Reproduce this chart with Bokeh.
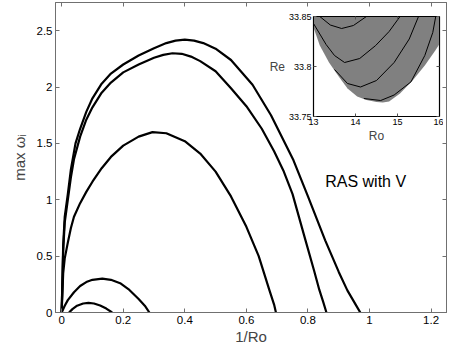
from bokeh.plotting import figure
from bokeh.models import LinearAxis, FixedTicker, Range1d
from bokeh.layouts import column
from bokeh.embed import file_html
from bokeh.resources import INLINE
from bokeh.core.properties import value

# ---------------- main chart data ----------------
c1_x = [0, 0.005, 0.01, 0.02, 0.03, 0.045, 0.06, 0.08, 0.1, 0.13, 0.16, 0.2, 0.25, 0.3, 0.34,
        0.37, 0.4, 0.43, 0.46, 0.5, 0.55, 0.62, 0.68, 0.753, 0.8, 0.856, 0.9, 0.928, 0.955, 0.97]
c1_y = [0, 0.6, 0.85, 1.05, 1.27, 1.5, 1.63, 1.78, 1.9, 2.03, 2.12, 2.2, 2.28, 2.345, 2.39,
        2.412, 2.42, 2.412, 2.39, 2.34, 2.24, 2.02, 1.75, 1.35, 1.03, 0.64, 0.36, 0.196, 0.07, 0]

c2_x = [0, 0.005, 0.01, 0.02, 0.03, 0.04, 0.06, 0.08, 0.1, 0.13, 0.16, 0.2, 0.25, 0.3, 0.33,
        0.36, 0.39, 0.42, 0.45, 0.5, 0.55, 0.6, 0.65, 0.69, 0.72, 0.75, 0.79, 0.82, 0.837, 0.85,
        0.86]
c2_y = [0, 0.55, 0.8, 1.0, 1.2, 1.36, 1.56, 1.71, 1.82, 1.95, 2.04, 2.13, 2.2, 2.26, 2.285,
        2.30, 2.295, 2.27, 2.23, 2.14, 1.99, 1.83, 1.63, 1.43, 1.26, 1.05, 0.66, 0.37, 0.2, 0.09,
        0]

c3_x = [0, 0.005, 0.01, 0.02, 0.03, 0.04, 0.06, 0.08, 0.1, 0.13, 0.16, 0.2, 0.25, 0.295, 0.34,
        0.4, 0.45, 0.5, 0.55, 0.6, 0.64, 0.675, 0.69, 0.696]
c3_y = [0, 0.35, 0.48, 0.62, 0.75, 0.85, 0.97, 1.07, 1.16, 1.28, 1.38, 1.48, 1.56, 1.60, 1.59,
        1.52, 1.41, 1.25, 1.03, 0.76, 0.5, 0.196, 0.07, 0]

c4_x = [0, 0.01, 0.02, 0.04, 0.06, 0.08, 0.1, 0.132, 0.16, 0.19, 0.22, 0.25, 0.27, 0.285]
c4_y = [0, 0.06, 0.11, 0.18, 0.235, 0.27, 0.29, 0.30, 0.29, 0.26, 0.2, 0.12, 0.06, 0]

c5_x = [0.024, 0.035, 0.05, 0.07, 0.087, 0.105, 0.125, 0.145, 0.164]
c5_y = [0, 0.03, 0.06, 0.08, 0.085, 0.08, 0.062, 0.035, 0]

x_ticks = [0, 0.2, 0.4, 0.6, 0.8, 1.0, 1.2]
x_tick_labels = ["0", "0.2", "0.4", "0.6", "0.8", "1", "1.2"]
y_ticks = [0, 0.5, 1.0, 1.5, 2.0, 2.5]
y_tick_labels = ["0", "0.5", "1", "1.5", "2", "2.5"]

# ---------------- inset data ----------------
bnd_ro = [13.0, 13.15, 13.37, 13.6, 13.81, 14.04, 14.26, 14.5, 14.65, 14.8, 15.06, 15.36,
          15.65, 15.9, 16.0]
bnd_re = [33.839, 33.821, 33.804, 33.790, 33.778, 33.770, 33.7665, 33.7645, 33.764, 33.765,
          33.773, 33.786, 33.801, 33.816, 33.8226]

ca_ro = [13.15, 13.4, 13.67, 13.95, 14.26]
ca_re = [33.85, 33.8415, 33.838, 33.841, 33.85]

cb_ro = [13.0, 13.3, 13.5, 13.74, 14.1, 14.48, 14.8, 15.06]
cb_re = [33.843, 33.822, 33.811, 33.804, 33.808, 33.821, 33.835, 33.85]

cc_ro = [13.5, 13.81, 14.12, 14.5, 14.92, 15.28, 15.5]
cc_re = [33.797, 33.783, 33.7795, 33.786, 33.804, 33.8275, 33.85]

cd_ro = [14.2, 14.6, 14.92, 15.32, 15.65, 15.84, 15.91]
cd_re = [33.768, 33.766, 33.7715, 33.7846, 33.811, 33.834, 33.85]

in_x_ticks = [13, 14, 15, 16]
in_x_tick_labels = ["13", "14", "15", "16"]
in_y_ticks = [33.75, 33.8, 33.85]
in_y_tick_labels = ["33.75", "33.8", "33.85"]

FONT = "Liberation Sans"
AXC = "#707070"

# ---------------- main figure ----------------
p = figure(width=450, height=349, x_range=Range1d(-0.02, 1.25), y_range=Range1d(0, 2.75),
           output_backend="svg", toolbar_location=None,
           min_border_left=55, min_border_right=4, min_border_top=2, min_border_bottom=37)
p.title.visible = False
p.grid.visible = False
p.outline_line_color = AXC
p.background_fill_color = "white"
p.border_fill_color = "white"


def style_axis(ax, ticks, labels, show_labels, size="11.5px"):
    ax.ticker = FixedTicker(ticks=ticks)
    ax.major_label_overrides = {t: l for t, l in zip(ticks, labels)}
    ax.major_tick_in = 4
    ax.major_tick_out = 0
    ax.minor_tick_line_color = None
    ax.axis_line_color = AXC
    ax.major_tick_line_color = AXC
    ax.major_label_text_font = FONT
    if show_labels:
        ax.major_label_text_color = "black"
        ax.major_label_text_font_size = size
        ax.major_label_standoff = 3
    else:
        ax.major_label_text_color = None
        ax.major_label_text_font_size = "1px"
        ax.major_label_standoff = 0


style_axis(p.xaxis[0], x_ticks, x_tick_labels, True)
style_axis(p.yaxis[0], y_ticks, y_tick_labels, True)
p.xaxis[0].axis_label = "1/Ro"
p.yaxis[0].axis_label = "max \u03c9\u1d62"
for ax in (p.xaxis[0], p.yaxis[0]):
    ax.axis_label_text_font = FONT
    ax.axis_label_text_font_style = "normal"
    ax.axis_label_text_font_size = "15px"
p.xaxis[0].axis_label_standoff = 1
p.yaxis[0].axis_label_standoff = 6

top_ax = LinearAxis()
style_axis(top_ax, x_ticks, x_tick_labels, False)
p.add_layout(top_ax, "above")
right_ax = LinearAxis()
style_axis(right_ax, y_ticks, y_tick_labels, False)
p.add_layout(right_ax, "right")

for xs, ys in ((c1_x, c1_y), (c2_x, c2_y), (c3_x, c3_y), (c4_x, c4_y), (c5_x, c5_y)):
    p.line(xs, ys, line_color="black", line_width=2.2, line_join="round")

p.text(x=[0.856], y=[1.16], text=["RAS with V"], text_font=value(FONT),
       text_font_size="16px", text_baseline="middle", text_align="left", text_color="black")

# ---------------- inset figure ----------------
q = figure(width=185, height=141, x_range=Range1d(13, 16), y_range=Range1d(33.75, 33.85),
           output_backend="svg", toolbar_location=None,
           min_border_left=45, min_border_right=4, min_border_top=12, min_border_bottom=28)
q.title.visible = False
q.grid.visible = False
q.outline_line_color = "black"
q.outline_line_width = 1.2
q.background_fill_color = "white"
q.border_fill_alpha = 0


def style_inset_axis(ax, ticks, labels, show_labels):
    ax.ticker = FixedTicker(ticks=ticks)
    ax.major_label_overrides = {t: l for t, l in zip(ticks, labels)}
    ax.major_tick_in = 3
    ax.major_tick_out = 0
    ax.minor_tick_line_color = None
    ax.axis_line_color = "black"
    ax.major_tick_line_color = "#555555"
    ax.major_label_text_font = FONT
    if show_labels:
        ax.major_label_text_color = "black"
        ax.major_label_text_font_size = "9px"
        ax.major_label_standoff = 2
    else:
        ax.major_label_text_color = None
        ax.major_label_text_font_size = "1px"
        ax.major_label_standoff = 0


style_inset_axis(q.xaxis[0], in_x_ticks, in_x_tick_labels, True)
style_inset_axis(q.yaxis[0], in_y_ticks, in_y_tick_labels, True)
q.xaxis[0].axis_label = "Ro"
q.yaxis[0].axis_label = "Re"
q.yaxis[0].axis_label_orientation = "horizontal"
for ax in (q.xaxis[0], q.yaxis[0]):
    ax.axis_label_text_font = FONT
    ax.axis_label_text_font_style = "normal"
    ax.axis_label_text_font_size = "12px"
    ax.axis_label_standoff = 1

qt = LinearAxis()
style_inset_axis(qt, in_x_ticks, in_x_tick_labels, False)
q.add_layout(qt, "above")
qr = LinearAxis()
style_inset_axis(qr, in_y_ticks, in_y_tick_labels, False)
q.add_layout(qr, "right")

q.varea(x=bnd_ro, y1=bnd_re, y2=[33.85] * len(bnd_ro), fill_color="#808080")
for xs, ys in ((ca_ro, ca_re), (cb_ro, cb_re), (cc_ro, cc_re), (cd_ro, cd_re)):
    q.line(xs, ys, line_color="black", line_width=1)

q.styles = {"position": "absolute", "left": "258px", "top": "4px"}

root = column(p, q)

open("out.html", "w").write(file_html(root, INLINE))
